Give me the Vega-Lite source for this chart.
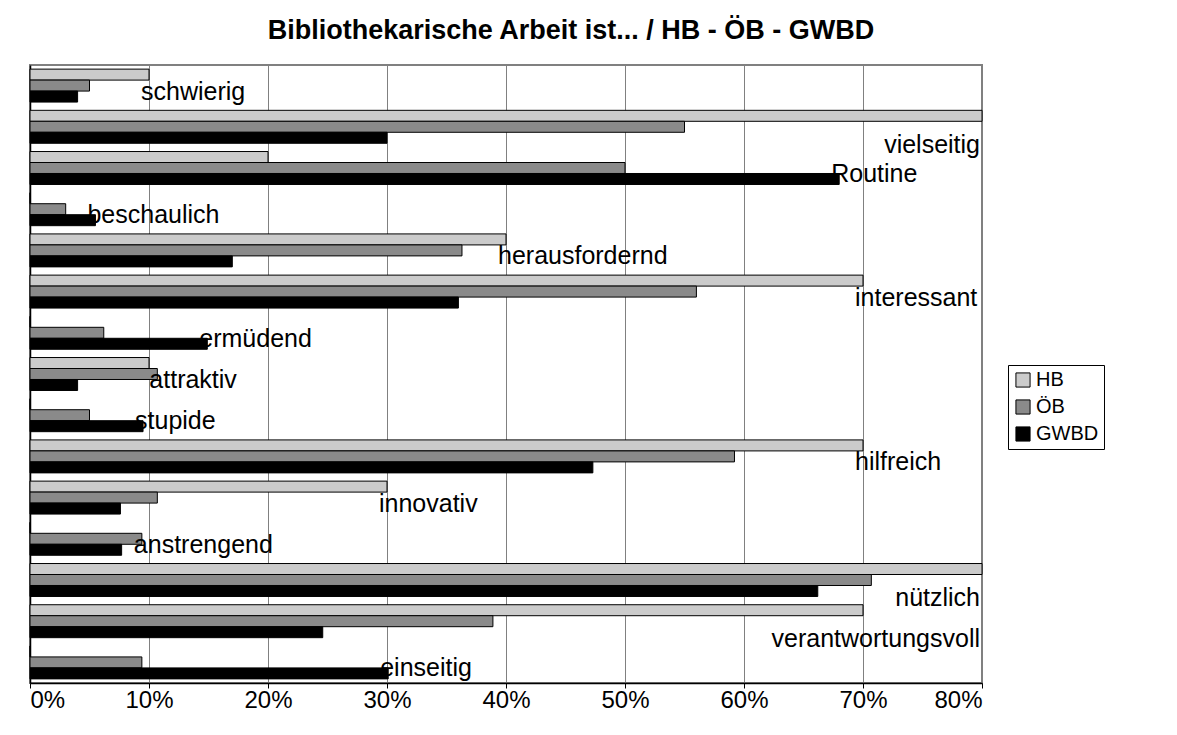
{
  "$schema": "https://vega.github.io/schema/vega-lite/v6.json",
  "width": 952,
  "height": 618,
  "autosize": {"type": "none"},
  "padding": {"left": 30, "top": 65, "right": 195, "bottom": 52},
  "background": "white",
  "title": {
    "text": "Bibliothekarische Arbeit ist... / HB - ÖB - GWBD",
    "font": "Liberation Sans",
    "fontSize": 27,
    "fontWeight": "bold",
    "color": "black",
    "anchor": "middle",
    "dx": 65,
    "offset": 20
  },
  "config": {
    "view": {"stroke": "#808080", "strokeWidth": 2},
    "font": "Liberation Sans"
  },
  "data": {
    "values": [
      {"cat": "schwierig", "series": "HB", "value": 0.10},
      {"cat": "schwierig", "series": "ÖB", "value": 0.05},
      {"cat": "schwierig", "series": "GWBD", "value": 0.04},
      {"cat": "vielseitig", "series": "HB", "value": 0.80},
      {"cat": "vielseitig", "series": "ÖB", "value": 0.55},
      {"cat": "vielseitig", "series": "GWBD", "value": 0.30},
      {"cat": "Routine", "series": "HB", "value": 0.20},
      {"cat": "Routine", "series": "ÖB", "value": 0.50},
      {"cat": "Routine", "series": "GWBD", "value": 0.68},
      {"cat": "beschaulich", "series": "HB", "value": 0},
      {"cat": "beschaulich", "series": "ÖB", "value": 0.03},
      {"cat": "beschaulich", "series": "GWBD", "value": 0.055},
      {"cat": "herausfordernd", "series": "HB", "value": 0.40},
      {"cat": "herausfordernd", "series": "ÖB", "value": 0.363},
      {"cat": "herausfordernd", "series": "GWBD", "value": 0.17},
      {"cat": "interessant", "series": "HB", "value": 0.70},
      {"cat": "interessant", "series": "ÖB", "value": 0.56},
      {"cat": "interessant", "series": "GWBD", "value": 0.36},
      {"cat": "ermüdend", "series": "HB", "value": 0},
      {"cat": "ermüdend", "series": "ÖB", "value": 0.062},
      {"cat": "ermüdend", "series": "GWBD", "value": 0.149},
      {"cat": "attraktiv", "series": "HB", "value": 0.10},
      {"cat": "attraktiv", "series": "ÖB", "value": 0.107},
      {"cat": "attraktiv", "series": "GWBD", "value": 0.04},
      {"cat": "stupide", "series": "HB", "value": 0},
      {"cat": "stupide", "series": "ÖB", "value": 0.05},
      {"cat": "stupide", "series": "GWBD", "value": 0.095},
      {"cat": "hilfreich", "series": "HB", "value": 0.70},
      {"cat": "hilfreich", "series": "ÖB", "value": 0.592},
      {"cat": "hilfreich", "series": "GWBD", "value": 0.473},
      {"cat": "innovativ", "series": "HB", "value": 0.30},
      {"cat": "innovativ", "series": "ÖB", "value": 0.107},
      {"cat": "innovativ", "series": "GWBD", "value": 0.076},
      {"cat": "anstrengend", "series": "HB", "value": 0},
      {"cat": "anstrengend", "series": "ÖB", "value": 0.094},
      {"cat": "anstrengend", "series": "GWBD", "value": 0.077},
      {"cat": "nützlich", "series": "HB", "value": 0.80},
      {"cat": "nützlich", "series": "ÖB", "value": 0.707},
      {"cat": "nützlich", "series": "GWBD", "value": 0.662},
      {"cat": "verantwortungsvoll", "series": "HB", "value": 0.70},
      {"cat": "verantwortungsvoll", "series": "ÖB", "value": 0.389},
      {"cat": "verantwortungsvoll", "series": "GWBD", "value": 0.246},
      {"cat": "einseitig", "series": "HB", "value": 0},
      {"cat": "einseitig", "series": "ÖB", "value": 0.094},
      {"cat": "einseitig", "series": "GWBD", "value": 0.301}
    ]
  },
  "encoding": {
    "y": {
      "field": "cat",
      "type": "nominal",
      "sort": null,
      "scale": {"paddingInner": 0.2, "paddingOuter": 0.1},
      "axis": {"title": null, "labels": false, "ticks": false, "domainColor": "black", "domainWidth": 1.5}
    }
  },
  "layer": [
    {
      "mark": {"type": "bar", "stroke": "black", "strokeWidth": 1},
      "encoding": {
        "x": {
          "field": "value",
          "type": "quantitative",
          "scale": {"domain": [0, 0.8], "nice": false},
          "axis": {
            "title": null,
            "format": ".0%",
            "values": [0, 0.1, 0.2, 0.3, 0.4, 0.5, 0.6, 0.7, 0.8],
            "grid": true,
            "gridColor": "#808080",
            "gridWidth": 1,
            "domainColor": "black",
            "domainWidth": 1.5,
            "tickColor": "black",
            "tickSize": 5,
            "labelFontSize": 24,
            "labelColor": "black",
            "labelPadding": 0,
            "labelFont": "Liberation Sans"
          }
        },
        "yOffset": {"field": "series", "type": "nominal", "sort": ["HB", "ÖB", "GWBD"], "scale": {"paddingInner": 0, "paddingOuter": 0}},
        "fill": {
          "field": "series",
          "type": "nominal",
          "sort": ["HB", "ÖB", "GWBD"],
          "scale": {"domain": ["HB", "ÖB", "GWBD"], "range": ["#cbcbcb", "#8a8a8a", "#000000"]},
          "legend": {
            "title": null,
            "orient": "none",
            "legendX": 978,
            "legendY": 300,
            "symbolType": "square",
            "symbolSize": 200,
            "symbolStrokeColor": "black",
            "symbolStrokeWidth": 1,
            "labelFontSize": 20,
            "labelColor": "black",
            "labelFont": "Liberation Sans",
            "labelOffset": 3,
            "rowPadding": 7,
            "strokeColor": "black",
            "fillColor": "white",
            "padding": 5
          }
        }
      }
    },
    {
      "transform": [
        {"joinaggregate": [{"op": "max", "field": "value", "as": "maxv"}], "groupby": ["cat"]},
        {"filter": "datum.series === 'HB'"},
        {"filter": {"not": {"field": "cat", "oneOf": ["vielseitig", "nützlich", "verantwortungsvoll"]}}}
      ],
      "mark": {"type": "text", "align": "left", "baseline": "middle", "dx": -8, "dy": 6, "fontSize": 25, "color": "black"},
      "encoding": {
        "x": {"field": "maxv", "type": "quantitative"},
        "text": {"field": "cat"}
      }
    },
    {
      "transform": [
        {"filter": "datum.series === 'HB'"},
        {"filter": {"field": "cat", "oneOf": ["vielseitig", "nützlich", "verantwortungsvoll"]}}
      ],
      "mark": {"type": "text", "align": "right", "baseline": "middle", "dx": -2, "dy": 18, "fontSize": 25, "color": "black"},
      "encoding": {
        "x": {"datum": 0.8, "type": "quantitative"},
        "text": {"field": "cat"}
      }
    }
  ]
}
